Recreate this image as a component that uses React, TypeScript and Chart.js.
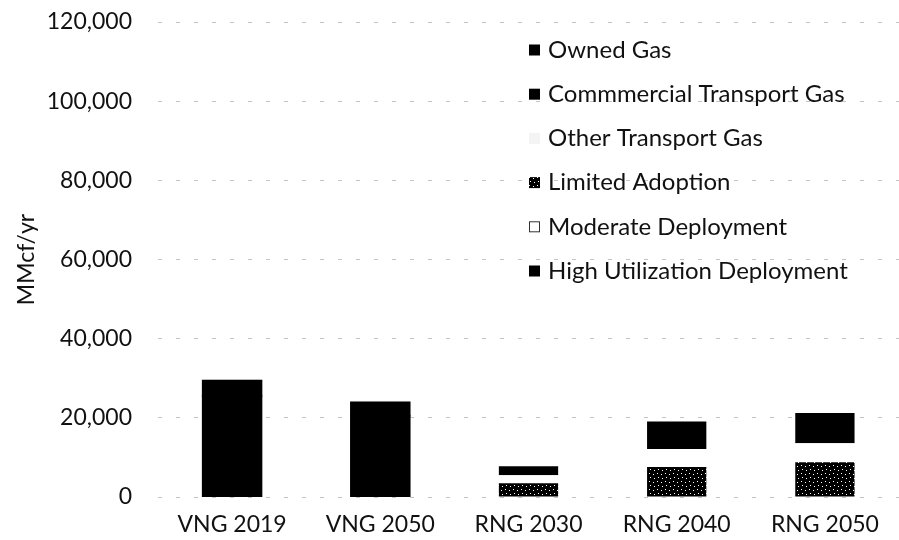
import React, { useEffect, useRef } from "react";
import { Chart, registerables } from "chart.js";

Chart.register(...registerables);

const categories = ["VNG 2019", "VNG 2050", "RNG 2030", "RNG 2040", "RNG 2050"];
const seriesLabels = [
  "Owned Gas",
  "Commmercial Transport Gas",
  "Other Transport Gas",
  "Limited Adoption",
  "Moderate Deployment",
  "High Utilization Deployment",
];
const ownedGas = [25500, 20500, null, null, null];
const commercialTransportGas = [4000, 3500, null, null, null];
const otherTransportGas = [300, 300, null, null, null];
const limitedAdoption = [null, null, 3500, 7600, 8800];
const moderateDeployment = [null, null, 2000, 4500, 4800];
const highUtilizationDeployment = [null, null, 2300, 7000, 7600];
const yAxisTitle = "MMcf/yr";
const yMax = 120000;
const yStep = 20000;

const FONT = "Lato, 'Open Sans', sans-serif";

function makePattern(): CanvasPattern | string {
  const c = document.createElement("canvas");
  c.width = 8;
  c.height = 8;
  const g = c.getContext("2d");
  if (!g) return "#222";
  g.fillStyle = "#000";
  g.fillRect(0, 0, 8, 8);
  g.fillStyle = "#fff";
  g.fillRect(1, 1, 1, 1);
  g.fillRect(5, 2, 1, 1);
  g.fillRect(2, 5, 1, 1);
  g.fillRect(6, 6, 1, 1);
  return g.createPattern(c, "repeat") || "#222";
}

export default function App() {
  const ref = useRef<HTMLCanvasElement | null>(null);

  useEffect(() => {
    if (!ref.current) return;
    const pattern = makePattern();
    const fills: any[] = ["#000000", "#000000", "#f4f4f4", pattern, "#ffffff", "#000000"];
    const inflate = [0.6, 0.6, 0, 0, 0, 0];
    const values = [
      ownedGas,
      commercialTransportGas,
      otherTransportGas,
      limitedAdoption,
      moderateDeployment,
      highUtilizationDeployment,
    ];

    const legendPlugin = {
      id: "insideLegend",
      afterDraw(chart: any) {
        const ctx = chart.ctx;
        ctx.save();
        ctx.font = `24px ${FONT}`;
        ctx.textBaseline = "middle";
        ctx.textAlign = "left";
        chart.data.datasets.forEach((ds: any, i: number) => {
          const y = 50 + i * 44.2;
          const bx = 529;
          const bs = 11;
          ctx.fillStyle = ds.backgroundColor;
          ctx.fillRect(bx, y - bs / 2, bs, bs);
          if (i === 4) {
            ctx.strokeStyle = "#333";
            ctx.lineWidth = 1;
            ctx.strokeRect(bx + 0.5, y - bs / 2 + 0.5, bs - 1, bs - 1);
          }
          ctx.fillStyle = "#111";
          ctx.fillText(ds.label, 548, y);
        });
        ctx.restore();
      },
    };

    const chart = new Chart(ref.current, {
      type: "bar",
      data: {
        labels: categories,
        datasets: seriesLabels.map((label, i) => ({
          label,
          data: values[i] as any,
          backgroundColor: fills[i],
          borderWidth: 0,
          inflateAmount: inflate[i],
          barPercentage: 0.4,
          categoryPercentage: 1.0,
        })),
      },
      options: {
        animation: false,
        responsive: false,
        maintainAspectRatio: false,
        layout: { padding: { top: 22, bottom: 1, left: 0, right: 0 } },
        plugins: {
          legend: { display: false },
          tooltip: { enabled: false },
        },
        scales: {
          x: {
            stacked: true,
            grid: { display: false, drawTicks: false },
            border: { display: false },
            ticks: {
              color: "#111",
              font: { family: FONT, size: 23 },
              padding: 14,
            },
            afterFit: (scale: any) => {
              scale.paddingLeft = 0;
              scale.paddingRight = 0;
              scale.height = 42;
            },
          },
          y: {
            stacked: true,
            min: 0,
            max: yMax,
            grid: { color: "#c4c4c4", drawTicks: false, lineWidth: 1 },
            border: { display: false, dash: [4, 14] },
            ticks: {
              stepSize: yStep,
              color: "#111",
              font: { family: FONT, size: 23 },
              padding: 26,
              callback: (v: any) => Number(v).toLocaleString("en-US"),
            },
            title: {
              display: true,
              text: yAxisTitle,
              color: "#111",
              font: { family: FONT, size: 23 },
              padding: { top: 13, bottom: 0 },
            },
            afterFit: (scale: any) => {
              scale.width = 158;
              scale.paddingTop = 0;
              scale.paddingBottom = 0;
            },
          },
        },
      },
      plugins: [legendPlugin],
    });
    return () => chart.destroy();
  }, []);

  return (
    <div style={{ position: "fixed", left: 0, top: 0, width: 899, height: 540, background: "#fff" }}>
      <canvas ref={ref} width={899} height={540} style={{ display: "block", width: 899, height: 540 }} />
    </div>
  );
}
